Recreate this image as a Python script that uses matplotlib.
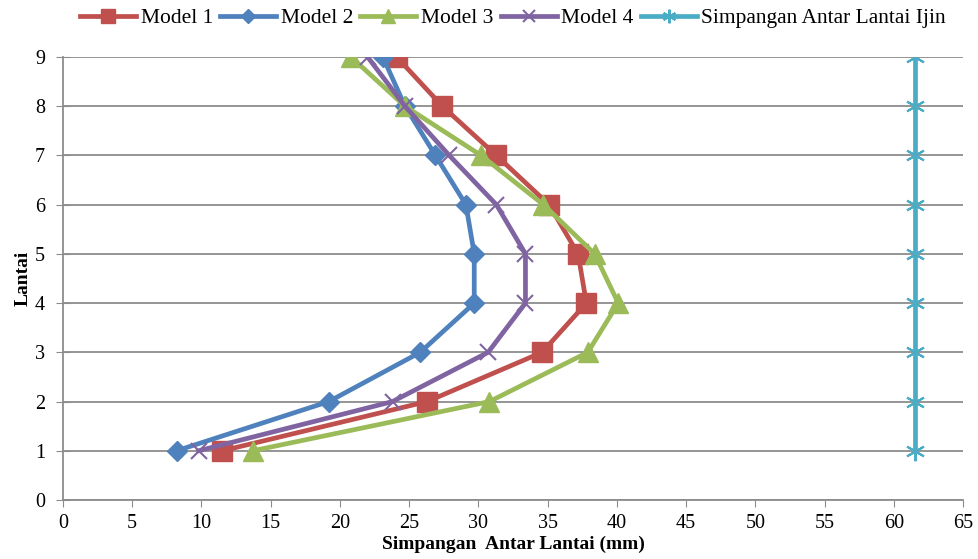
import numpy as np
import matplotlib.pyplot as plt

plt.rcParams['font.family'] = ['Liberation Serif', 'DejaVu Serif']

lantai = [1, 2, 3, 4, 5, 6, 7, 8, 9]

model_1 = [11.5, 26.3, 34.6, 37.8, 37.2, 35.1, 31.3, 27.4, 24.1]
model_2 = [8.2, 19.2, 25.8, 29.7, 29.7, 29.1, 26.9, 24.7, 23.1]
model_3 = [13.7, 30.8, 37.9, 40.1, 38.4, 34.7, 30.2, 24.7, 20.8]
model_4 = [9.8, 23.8, 30.7, 33.4, 33.4, 31.3, 27.9, 24.7, 22.0]
ijin = [61.5] * 9

fig = plt.figure(figsize=(9.79, 5.59), dpi=100)
ax = fig.add_axes([63 / 979, 59 / 559, 900 / 979, 443 / 559])

lw = 3.4
ax.plot(model_1, lantai, color='#c0504d', lw=lw, marker='s', ms=14, label='Model 1', zorder=3)
ax.plot(model_2, lantai, color='#4f81bd', lw=lw, marker='D', ms=10.5, label='Model 2', zorder=3)
ax.plot(model_3, lantai, color='#9bbb59', lw=lw, marker='^', ms=15, label='Model 3', zorder=3)
ax.plot(model_4, lantai, color='#8064a2', lw=lw, marker='x', ms=12, mew=1.5,
        label='Model 4', zorder=3)
ax.plot(ijin, lantai, color='#4bacc6', lw=lw, marker=(6, 2, 0), ms=14, mew=1.5,
        label='Simpangan Antar Lantai Ijin', zorder=3)

ax.set_xlim(0, 65)
ax.set_ylim(0, 9)
ax.set_xticks(np.arange(0, 66, 5))
ax.set_yticks(np.arange(0, 10, 1))
ax.yaxis.grid(True, color='#8c8c8c', lw=1.3)
ax.set_axisbelow(True)

for side in ['top', 'right']:
    ax.spines[side].set_visible(False)
for side in ['left', 'bottom']:
    ax.spines[side].set_color('#8c8c8c')
    ax.spines[side].set_linewidth(1.3)

ax.tick_params(axis='x', direction='out', length=5, color='#8c8c8c', labelsize=14.5, pad=5)
ax.tick_params(axis='y', direction='inout', length=10, color='#8c8c8c', labelsize=14.5, pad=8)

ax.set_xlabel('Simpangan  Antar Lantai (mm)', fontsize=14, fontweight='bold', labelpad=2)
ax.set_ylabel('Lantai', fontsize=14, fontweight='bold', labelpad=2)

leg = ax.legend(loc='center', bbox_to_anchor=(0.5, 1.088), ncol=5, frameon=False,
                fontsize=15.5, handlelength=2.6, handletextpad=0.2, columnspacing=0.35,
                borderaxespad=0, markerscale=0.7)

fig.savefig('out.png', dpi=100)
